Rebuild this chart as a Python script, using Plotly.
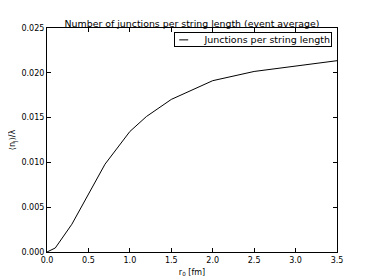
import plotly.graph_objects as go

r0 = [0.0, 0.1, 0.3, 0.5, 0.7, 1.0, 1.2, 1.5, 2.0, 2.5, 3.5]
junctions = [0.0, 0.00045, 0.0031, 0.0065, 0.0098, 0.01345, 0.01512, 0.01703, 0.01912, 0.02015, 0.02135]
series_name = "Junctions per string length"

xticks = [0.0, 0.5, 1.0, 1.5, 2.0, 2.5, 3.0, 3.5]
yticks = [0.0, 0.005, 0.010, 0.015, 0.020, 0.025]

fig = go.Figure()
fig.add_trace(go.Scatter(x=r0, y=junctions, mode="lines",
                         line=dict(color="black", width=1),
                         name=series_name, showlegend=False))

font = "DejaVu Sans"
# page body has an 8px default margin, so the figure is offset by 8px
fig.update_layout(
    width=366, height=272,
    autosize=False,
    margin=dict(l=39, r=37, t=20, b=28, pad=0, autoexpand=False),
    paper_bgcolor="white", plot_bgcolor="white",
    title=dict(text="Number of junctions per string length (event average)",
               x=0.5, xanchor="center", xref="paper", y=1, yref="paper",
               yanchor="bottom", pad=dict(b=1), automargin=False,
               font=dict(family=font, size=9.4, color="black")),
    showlegend=False,
    font=dict(family=font, size=8, color="black"),
)
# compact matplotlib-style legend box
fig.add_annotation(xref="paper", yref="paper", x=0.983, y=0.982,
                   xanchor="right", yanchor="top", showarrow=False,
                   text=series_name, align="right", valign="middle",
                   width=154, height=11, borderpad=1,
                   bordercolor="black", borderwidth=1,
                   font=dict(family=font, size=9.5, color="black"))
fig.add_shape(type="line", xref="paper", yref="paper", layer="above",
              x0=0.456, x1=0.487, y0=0.947, y1=0.947,
              line=dict(color="black", width=1))

fig.update_xaxes(range=[0, 3.5], tickvals=xticks, automargin=False,
                 ticktext=[f"{v:.1f}" for v in xticks],
                 ticks="inside", ticklen=4, tickcolor="black",
                 showline=True, linecolor="black", linewidth=1, mirror="ticks",
                 showgrid=False, zeroline=False,
                 title=dict(text="r<sub>0</sub> [fm]", standoff=5,
                            font=dict(family=font, size=8)),
                 tickfont=dict(family=font, size=8))
fig.update_yaxes(range=[0, 0.025], tickvals=yticks, automargin=False,
                 ticktext=[f"{v:.3f}" for v in yticks],
                 ticks="inside", ticklen=4, tickcolor="black",
                 showline=True, linecolor="black", linewidth=1, mirror="ticks",
                 showgrid=False, zeroline=False,
                 title=dict(text="⟨n<sub>J</sub>⟩/λ", standoff=4,
                            font=dict(family=font, size=8)),
                 tickfont=dict(family=font, size=8))

fig.write_html("out.html")
